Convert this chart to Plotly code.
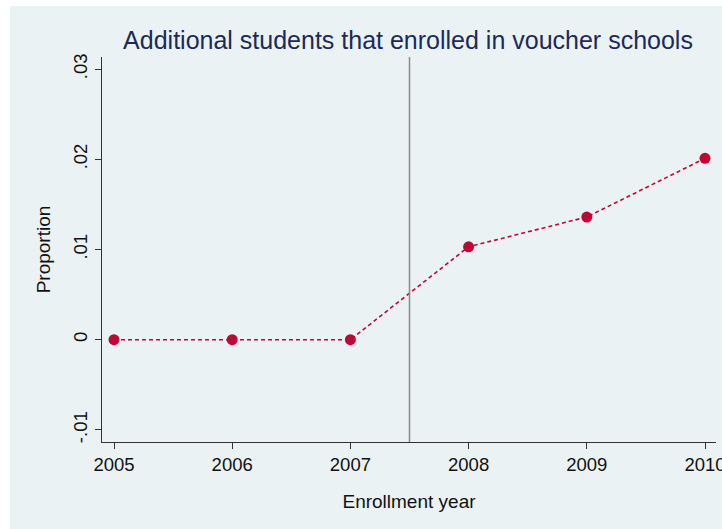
import plotly.graph_objects as go

years = [2005, 2006, 2007, 2008, 2009, 2010]
proportion = [0.0, 0.0, 0.0, 0.0103, 0.0136, 0.0201]
y_tick_vals = [-0.01, 0.0, 0.01, 0.02, 0.03]
y_tick_text = ["-.01", "0", ".01", ".02", ".03"]
x_tick_vals = [2005, 2006, 2007, 2008, 2009, 2010]
cutoff_year = 2007.5

W, H = 722, 529
L, R, T, B = 102, 6, 57, 87
pw, ph = W - L - R, H - T - B

BG = "#EAF2F3"
RED = "#C10534"
FONT = "Liberation Sans, Arial, Helvetica, sans-serif"

fig = go.Figure()
fig.add_trace(go.Scatter(
    x=years, y=proportion, mode="lines+markers",
    line=dict(color=RED, width=1.6, dash="4px,3px"),
    marker=dict(color=RED, size=11),
    showlegend=False, cliponaxis=False,
))

fig.add_vline(x=cutoff_year, line=dict(color="#8a8a8a", width=1.5))

# Stata-style graph region background
fig.add_shape(type="rect", xref="paper", yref="paper", layer="below",
              x0=(10 - L) / pw, x1=(W + 5 - L) / pw,
              y0=-(B + 5) / ph, y1=1 + (T - 6) / ph,
              fillcolor=BG, line=dict(width=0))

fig.update_layout(
    width=W, height=H,
    margin=dict(l=L, r=R, t=T, b=B, autoexpand=False),
    paper_bgcolor="white", plot_bgcolor="white",
    font=dict(family=FONT, color="#111"),
    title=dict(text="Additional students that enrolled in voucher schools",
               x=408 / W, xanchor="center", y=1 - 40 / H, yanchor="middle",
               font=dict(size=25, color="#1C2A5A", family=FONT)),
)
fig.update_xaxes(
    range=[2005 - 12 / 118.2, 2010 + 11 / 118.2], automargin=False,
    tickvals=x_tick_vals, ticks="outside", ticklen=6, tickcolor="#333",
    showline=True, linecolor="#333", linewidth=1.3, showgrid=False, zeroline=False,
    tickfont=dict(size=18.5, color="#111"), ticklabeloverflow="allow",
    title=dict(text="Enrollment year", font=dict(size=19, color="#111"), standoff=20),
)
fig.update_yaxes(
    range=[-0.01 - 12 / 9000, 0.03 + 12 / 9000], automargin=False,
    tickvals=y_tick_vals, ticktext=y_tick_text, tickangle=-90,
    ticks="outside", ticklen=6, tickcolor="#333",
    showline=True, linecolor="#333", linewidth=1.3,
    showgrid=True, gridcolor=BG, gridwidth=1.2, zeroline=False,
    tickfont=dict(size=18.5, color="#111"),
    title=dict(text="Proportion", font=dict(size=19, color="#111"), standoff=14),
)

fig.write_html("out.html")
